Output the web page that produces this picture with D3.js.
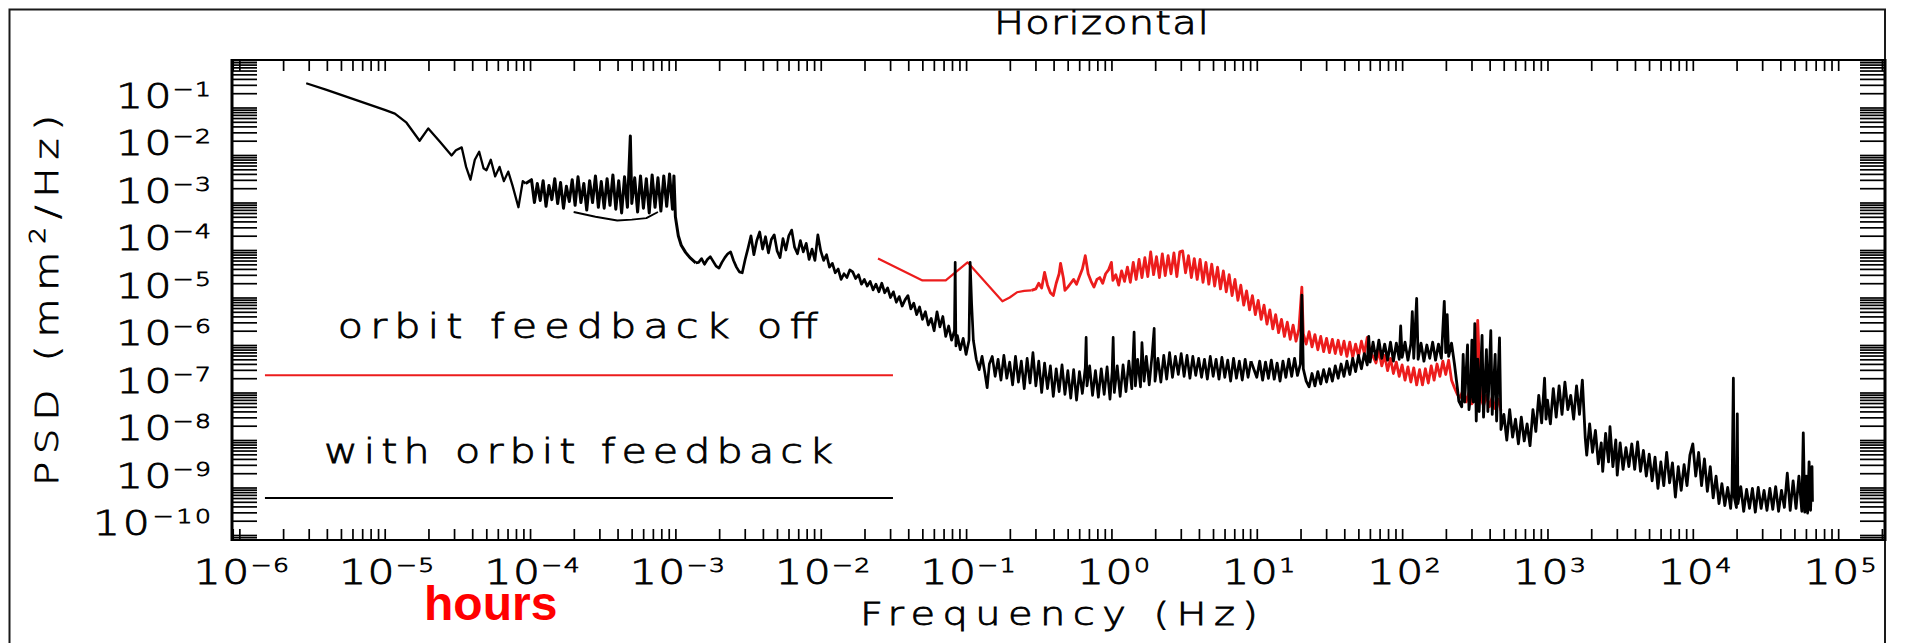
<!DOCTYPE html>
<html>
<head>
<meta charset="utf-8">
<script src="https://cdn.jsdelivr.net/npm/d3@7"></script>
<style>
  html, body { margin: 0; padding: 0; background: #fff; }
  svg { display: block; }
  .hershey {
    font-family: "DejaVu Sans", sans-serif; font-weight: 200;
    fill: #000; stroke: #000; stroke-width: 0.8px;
  }
</style>
</head>
<body>
<svg id="chart" width="1906" height="643"></svg>
<script>
// ---------- axis ranges and labels ----------
const xDomain = [8.9e-7, 2.1e5];          // Hz
const yDomain = [7.85e-11, 1];            // mm^2/Hz
const xLabelDecades = [-6, -5, -4, -3, -2, -1, 0, 1, 2, 3, 4, 5];
const yLabelDecades = [-1, -2, -3, -4, -5, -6, -7, -8, -9, -10];
const chartTitle = "Horizontal";
const xTitle = "Frequency (Hz)";
const seriesNames = ["orbit feedback off", "with orbit feedback"];
const noteText = "hours";

// ---------- PSD with orbit feedback: [log10 f, log10 PSD] ----------
const onDrift = [
  [-5.54,-0.49],[-5.40,-0.63],[-5.20,-0.84],[-5.00,-1.05],[-4.93,-1.13],[-4.85,-1.32],[-4.76,-1.70],
  [-4.70,-1.44],[-4.62,-1.72],[-4.54,-2.01],[-4.51,-1.90],[-4.47,-1.84],[-4.44,-2.25],[-4.41,-2.52],
  [-4.38,-2.10],[-4.35,-1.93],[-4.32,-2.28],[-4.30,-2.32],[-4.27,-2.10],[-4.24,-2.45],[-4.21,-2.25],
  [-4.18,-2.55],[-4.15,-2.35],[-4.12,-2.65],[-4.08,-3.10],[-4.05,-2.55],[-4.03,-2.60]
];
const onPlateau = [
  [-3.99,-2.52],[-3.97,-3.00],[-3.95,-2.60],[-3.93,-2.96],[-3.91,-2.54],[-3.89,-3.08],[-3.87,-2.64],
  [-3.85,-2.94],[-3.83,-2.50],[-3.81,-3.02],[-3.79,-2.58],[-3.77,-3.12],[-3.75,-2.66],[-3.73,-2.98],
  [-3.71,-2.52],[-3.69,-3.06],[-3.67,-2.46],[-3.65,-3.00],[-3.63,-2.60],[-3.61,-3.16],[-3.59,-2.54],
  [-3.57,-3.00],[-3.55,-2.44],[-3.53,-3.10],[-3.51,-2.56],[-3.49,-3.12],[-3.47,-2.50],[-3.45,-3.06],
  [-3.43,-2.42],[-3.41,-3.14],[-3.39,-2.54],[-3.37,-3.22],[-3.35,-2.46],[-3.33,-3.10],[-3.31,-1.60],
  [-3.30,-3.02],[-3.28,-2.48],[-3.26,-3.20],[-3.24,-2.44],[-3.22,-3.12],[-3.20,-2.50],[-3.18,-3.22],
  [-3.16,-2.42],[-3.14,-3.10],[-3.12,-2.48],[-3.10,-3.18],[-3.08,-2.44],[-3.06,-3.08],[-3.04,-2.40],
  [-3.02,-3.14],[-3.01,-2.44],[-3.00,-3.30],[-2.98,-3.70],[-2.96,-3.90],[-2.93,-4.05],[-2.90,-4.16],
  [-2.86,-4.27]
];
const onLowerTrace = [
  [-3.70,-3.20],[-3.55,-3.30],[-3.40,-3.38],[-3.30,-3.36],[-3.20,-3.33],[-3.12,-3.20]
];
const onMidBand = [
  [-2.84,-4.26],[-2.82,-4.18],[-2.80,-4.30],[-2.78,-4.20],[-2.76,-4.14],[-2.74,-4.24],[-2.72,-4.34],
  [-2.70,-4.38],[-2.68,-4.26],[-2.66,-4.16],[-2.64,-4.08],[-2.62,-4.04],[-2.60,-4.22],[-2.58,-4.36],
  [-2.56,-4.46],[-2.54,-4.48],[-2.52,-4.20],[-2.50,-3.96],[-2.48,-3.70],[-2.46,-4.10],[-2.44,-3.80],
  [-2.42,-3.62],[-2.40,-3.98],[-2.38,-3.72],[-2.36,-4.06],[-2.34,-3.78],[-2.32,-3.68],[-2.30,-4.02],
  [-2.28,-4.16],[-2.26,-3.76],[-2.24,-4.00],[-2.22,-3.70],[-2.20,-3.58],[-2.18,-3.94],[-2.16,-4.08],
  [-2.14,-3.80],[-2.12,-4.04],[-2.10,-3.86],[-2.08,-4.20],[-2.06,-3.98],[-2.04,-4.22],[-2.02,-3.68],
  [-2.00,-4.02],[-1.98,-4.22],[-1.96,-4.10],[-1.94,-4.36],[-1.92,-4.28],[-1.90,-4.48],[-1.88,-4.40],
  [-1.86,-4.62],[-1.84,-4.50],[-1.82,-4.58],[-1.80,-4.42],[-1.78,-4.46],[-1.76,-4.60],[-1.74,-4.52],
  [-1.72,-4.72],[-1.70,-4.62],[-1.68,-4.76],[-1.66,-4.66],[-1.64,-4.84],[-1.62,-4.72],[-1.60,-4.88],
  [-1.58,-4.70],[-1.56,-4.90],[-1.54,-4.80],[-1.52,-5.00],[-1.50,-4.88],[-1.48,-5.10],[-1.46,-4.98],
  [-1.44,-5.18],[-1.42,-5.05],[-1.40,-4.96],[-1.38,-5.24],[-1.36,-5.12],[-1.34,-5.36],[-1.32,-5.20],
  [-1.30,-5.46],[-1.28,-5.30],[-1.26,-5.58],[-1.24,-5.44],[-1.22,-5.70],[-1.20,-5.30],[-1.18,-5.62],
  [-1.16,-5.40],[-1.14,-5.82],[-1.12,-5.60],[-1.10,-5.90],[-1.08,-5.70],[-1.075,-4.26],[-1.07,-6.02],
  [-1.06,-5.80],[-1.04,-6.10],[-1.02,-5.86],[-1.00,-6.20],[-0.98,-5.90],[-0.972,-4.26],[-0.962,-5.12],
  [-0.95,-5.90],[-0.93,-6.30],[-0.91,-6.52],[-0.89,-6.24],[-0.87,-6.60],[-0.855,-6.90],[-0.84,-6.40],
  [-0.82,-6.24],[-0.80,-6.66],[-0.78,-6.30],[-0.76,-6.74],[-0.74,-6.22],[-0.72,-6.70],[-0.70,-6.36],
  [-0.68,-6.84],[-0.66,-6.24],[-0.64,-6.78],[-0.62,-6.34],[-0.60,-6.92],[-0.58,-6.28],[-0.56,-6.80],
  [-0.54,-6.16],[-0.52,-6.86],[-0.50,-6.34],[-0.48,-7.00],[-0.46,-6.38],[-0.44,-6.92],[-0.42,-6.44],
  [-0.40,-7.08],[-0.38,-6.50],[-0.36,-6.98],[-0.34,-6.42],[-0.32,-7.04],[-0.30,-6.54],[-0.28,-7.12],
  [-0.26,-6.52],[-0.24,-7.16],[-0.22,-6.56],[-0.20,-7.02],[-0.18,-6.48],[-0.174,-5.84],[-0.168,-6.86],
  [-0.15,-6.44],[-0.13,-7.06],[-0.11,-6.54],[-0.09,-7.10],[-0.07,-6.50],[-0.05,-7.04],[-0.03,-6.46],
  [-0.01,-7.14],[0.005,-6.56],[0.012,-5.84],[0.02,-7.00],[0.04,-6.44],[0.06,-7.08],[0.08,-6.42],
  [0.10,-6.98],[0.12,-6.34],[0.14,-6.92],[0.156,-5.73],[0.165,-6.86],[0.18,-6.30],[0.20,-6.88],
  [0.21,-5.95],[0.225,-6.76],[0.24,-6.24],[0.26,-6.84],[0.28,-6.20],[0.294,-5.65],[0.30,-6.76],
  [0.32,-6.28],[0.34,-6.78],[0.36,-6.22],[0.38,-6.72],[0.40,-6.16],[0.42,-6.68],[0.44,-6.24],
  [0.46,-6.62],[0.48,-6.18],[0.50,-6.66],[0.52,-6.22],[0.54,-6.70],[0.56,-6.24],[0.58,-6.64],
  [0.60,-6.28],[0.62,-6.68],[0.64,-6.30],[0.66,-6.72],[0.68,-6.24],[0.70,-6.66],[0.72,-6.30],
  [0.74,-6.72],[0.76,-6.26],[0.78,-6.68],[0.80,-6.32],[0.82,-6.76],[0.84,-6.28],[0.86,-6.70],
  [0.88,-6.34],[0.90,-6.74],[0.92,-6.30],[0.94,-6.68],[0.96,-6.34]
];
const onHighBand = [
  [1.00,-6.68],[1.02,-6.34],[1.04,-6.74],[1.06,-6.36],[1.08,-6.70],[1.10,-6.32],[1.12,-6.72],
  [1.14,-6.38],[1.16,-6.76],[1.18,-6.34],[1.20,-6.68],[1.22,-6.30],[1.24,-6.66],[1.26,-6.28],
  [1.28,-6.64],[1.30,-6.40],[1.31,-4.95],[1.32,-6.50],[1.34,-6.76],[1.36,-6.88],[1.38,-6.60],
  [1.40,-6.86],[1.42,-6.56],[1.44,-6.82],[1.46,-6.52],[1.48,-6.78],[1.50,-6.50],[1.52,-6.76],
  [1.54,-6.44],[1.56,-6.70],[1.58,-6.40],[1.60,-6.66],[1.62,-6.34],[1.64,-6.62],[1.66,-6.28],
  [1.68,-6.56],[1.70,-6.22],[1.72,-6.50],[1.74,-6.18],[1.76,-6.42],[1.77,-5.82],[1.78,-6.36],
  [1.80,-5.94],[1.82,-6.30],[1.84,-5.90],[1.86,-6.28],[1.88,-5.98],[1.90,-6.32],[1.92,-5.94],
  [1.94,-6.34],[1.96,-5.96],[1.98,-6.30],[1.99,-5.60],[2.00,-6.26],[2.02,-5.94],[2.04,-6.32],
  [2.06,-5.98],[2.07,-5.30],[2.08,-6.28],[2.10,-5.02],[2.11,-6.30],[2.13,-5.96],[2.15,-6.34],
  [2.17,-6.00],[2.19,-6.28],[2.21,-5.94],[2.23,-6.32],[2.25,-5.98],[2.27,-6.28],[2.29,-5.08],
  [2.30,-6.16],[2.31,-5.36],[2.32,-6.24],[2.34,-5.96],[2.36,-6.40],[2.38,-6.90],[2.39,-7.18],
  [2.41,-7.30],[2.42,-6.20],[2.43,-7.20],[2.45,-6.00],[2.46,-7.36],[2.47,-7.10],[2.48,-5.90],
  [2.49,-7.20],[2.50,-5.55],[2.51,-7.60],[2.52,-6.30],[2.53,-7.40],[2.55,-5.80],[2.56,-7.52],
  [2.58,-6.10],[2.59,-7.40],[2.61,-5.70],[2.62,-7.46],[2.64,-6.20],[2.65,-7.60],[2.67,-5.85],
  [2.68,-7.78],[2.70,-7.46],[2.72,-8.00],[2.74,-7.36],[2.76,-7.94],[2.78,-7.56],[2.80,-8.08],
  [2.82,-7.52],[2.84,-8.02],[2.86,-7.66],[2.88,-8.12],[2.90,-7.36],[2.92,-7.82],[2.94,-7.06],
  [2.96,-7.64],[2.98,-6.70],[2.99,-7.56],[3.00,-7.16],[3.02,-7.66],[3.04,-6.92],[3.06,-7.52],
  [3.08,-6.86],[3.10,-7.46],[3.12,-6.78],[3.14,-7.36],[3.16,-7.06],[3.18,-7.56],[3.20,-6.86],
  [3.22,-7.46],[3.24,-6.74],[3.26,-7.96],[3.27,-8.32],[3.29,-7.66],[3.31,-8.26],[3.33,-7.80],
  [3.35,-8.50],[3.37,-8.06],[3.38,-8.66],[3.40,-7.86],[3.42,-8.46],[3.43,-7.72],[3.45,-8.56],
  [3.47,-8.00],[3.48,-8.74],[3.50,-8.06],[3.52,-8.62],[3.54,-8.16],[3.56,-8.56],[3.58,-8.08],
  [3.60,-8.62],[3.62,-8.04],[3.64,-8.66],[3.66,-8.22],[3.68,-8.76],[3.70,-8.30],[3.72,-8.86],
  [3.74,-8.36],[3.76,-9.02],[3.78,-8.46],[3.80,-8.96],[3.82,-8.26],[3.84,-8.90],[3.86,-8.48],
  [3.88,-9.20],[3.90,-8.56],[3.92,-9.06],[3.94,-8.52],[3.96,-8.96],[3.98,-8.32],[4.00,-8.08],
  [4.02,-8.76],[4.04,-8.26],[4.06,-8.96],[4.08,-8.40],[4.10,-9.08],[4.12,-8.56],[4.14,-9.22],
  [4.16,-8.76],[4.18,-9.34],[4.20,-8.92],[4.22,-9.38],[4.24,-9.00],[4.26,-9.44],[4.27,-9.06],
  [4.279,-6.70],[4.285,-9.20],[4.30,-9.42],[4.306,-7.45],[4.31,-9.34],[4.33,-8.98],[4.35,-9.50],
  [4.37,-9.04],[4.39,-9.44],[4.41,-9.02],[4.43,-9.52],[4.45,-9.00],[4.47,-9.44],[4.49,-9.06],
  [4.51,-9.48],[4.53,-9.02],[4.55,-9.46],[4.57,-8.98],[4.59,-9.50],[4.61,-9.06],[4.63,-9.42],
  [4.65,-8.70],[4.67,-9.48],[4.69,-8.86],[4.71,-9.44],[4.73,-8.76],[4.75,-9.50],[4.76,-7.85],
  [4.77,-9.52],[4.78,-8.76],[4.79,-9.54],[4.80,-8.46],[4.81,-9.48],[4.82,-8.56],[4.823,-9.30]
];

// ---------- PSD with orbit feedback off: [log10 f, log10 PSD] ----------
const offSlow = [
  [-1.606,-4.18],[-1.30,-4.64],[-1.14,-4.64],[-0.99,-4.26],[-0.75,-5.08],[-0.70,-5.00],
  [-0.65,-4.89],[-0.60,-4.86],[-0.55,-4.85]
];
const offBand = [
  [-0.52,-4.82],[-0.50,-4.70],[-0.48,-4.80],[-0.46,-4.47],[-0.44,-4.74],[-0.42,-4.90],[-0.40,-4.96],
  [-0.38,-4.70],[-0.36,-4.50],[-0.35,-4.28],[-0.33,-4.60],[-0.32,-4.85],[-0.30,-4.78],[-0.28,-4.70],
  [-0.26,-4.62],[-0.24,-4.72],[-0.22,-4.56],[-0.20,-4.40],[-0.18,-4.12],[-0.16,-4.50],[-0.14,-4.66],
  [-0.12,-4.78],[-0.10,-4.62],[-0.08,-4.58],[-0.06,-4.70],[-0.04,-4.50],[-0.02,-4.42],[0.00,-4.26],
  [0.01,-4.64],[0.03,-4.52],[0.05,-4.74],[0.07,-4.44],[0.09,-4.66],[0.11,-4.36],[0.13,-4.68],
  [0.15,-4.26],[0.17,-4.62],[0.19,-4.20],[0.21,-4.58],[0.23,-4.16],[0.25,-4.56],[0.27,-4.04],
  [0.29,-4.52],[0.31,-4.14],[0.33,-4.58],[0.35,-4.08],[0.37,-4.54],[0.39,-4.12],[0.41,-4.50],
  [0.43,-4.06],[0.45,-4.56],[0.47,-4.04],[0.49,-4.02],[0.51,-4.48],[0.53,-4.12],[0.55,-4.58],
  [0.57,-4.18],[0.59,-4.62],[0.61,-4.20],[0.63,-4.68],[0.65,-4.26],[0.67,-4.72],[0.69,-4.30],
  [0.71,-4.76],[0.73,-4.36],[0.75,-4.82],[0.77,-4.44],[0.79,-4.88],[0.81,-4.52],[0.83,-4.96],
  [0.85,-4.62],[0.87,-5.06],[0.89,-4.74],[0.91,-5.16],[0.93,-4.86],[0.95,-5.26],[0.97,-4.96],
  [0.99,-5.36],[1.01,-5.06],[1.03,-5.46],[1.05,-5.16],[1.07,-5.56],[1.09,-5.26],[1.11,-5.66],
  [1.13,-5.36],[1.15,-5.74],[1.17,-5.46],[1.19,-5.82],[1.21,-5.52],[1.23,-5.88],[1.25,-5.58],
  [1.27,-5.92],[1.29,-5.66],[1.31,-4.78],[1.32,-5.76],[1.34,-5.98],[1.36,-5.72],[1.38,-6.04],
  [1.40,-5.78],[1.42,-6.10],[1.44,-5.82],[1.46,-6.14],[1.48,-5.86],[1.50,-6.16],[1.52,-5.88],
  [1.54,-6.18],[1.56,-5.90],[1.58,-6.20],[1.60,-5.92],[1.62,-6.24],[1.64,-5.94],[1.66,-6.26],
  [1.68,-5.98],[1.70,-6.24],[1.72,-5.92],[1.74,-6.18],[1.76,-5.84],[1.78,-6.14],[1.80,-6.24],
  [1.82,-6.38],[1.84,-6.12],[1.86,-6.44],[1.88,-6.22],[1.90,-6.54],[1.92,-6.28],[1.94,-6.60],
  [1.96,-6.36],[1.98,-6.66],[2.00,-6.42],[2.02,-6.74],[2.04,-6.46],[2.06,-6.78],[2.08,-6.48],
  [2.10,-6.84],[2.12,-6.52],[2.14,-6.84],[2.16,-6.50],[2.18,-6.80],[2.20,-6.44],[2.22,-6.74],
  [2.24,-6.40],[2.26,-6.66],[2.28,-6.34],[2.30,-6.62],[2.32,-6.32],[2.34,-6.74],[2.36,-6.90],
  [2.38,-7.04],[2.40,-7.10],[2.42,-6.94],[2.44,-7.20],[2.46,-7.00],[2.48,-7.24],[2.50,-7.04],
  [2.52,-5.48],[2.54,-7.10],[2.56,-7.28],[2.58,-7.06],[2.60,-7.30],[2.62,-7.10],[2.64,-7.34],
  [2.66,-7.14],[2.68,-7.38]
];

// ---------- layout ----------
const plot = { left: 232, right: 1885, top: 60, bottom: 540 };
const colors = { on: "#000000", off: "#ec1c1c", note: "#ff0000", frame: "#1a1a1a" };
const glyphStretch = 1.25;   // widens the sans glyphs toward the round plotter lettering

const svg = d3.select("#chart");

const x = d3.scaleLog().domain(xDomain).range([plot.left, plot.right]);
const y = d3.scaleLog().domain(yDomain).range([plot.bottom, plot.top]);

// log-axis tick positions: 1..9 x 10^n inside a domain
function logTicks([lo, hi]) {
  const out = [];
  const n0 = Math.floor(Math.log10(lo)), n1 = Math.ceil(Math.log10(hi));
  for (let n = n0; n <= n1; n++) {
    for (let k = 1; k < 10; k++) {
      const v = k * Math.pow(10, n);
      if (v >= lo && v <= hi * 1.000001) out.push(v);
    }
  }
  return out;
}
const xTicks = logTicks(xDomain);
const yTicks = logTicks(yDomain);

// text drawn in a horizontally stretched frame, fitted to a given width
function stretchedText(parent, opt) {
  const g = parent.append("g")
    .attr("transform", `translate(${opt.x},${opt.y}) rotate(${opt.rotate || 0}) scale(${glyphStretch},1)`);
  return g.append("text")
    .attr("class", "hershey")
    .attr("text-anchor", opt.anchor || "start")
    .attr("font-size", opt.size)
    .attr("textLength", opt.width / glyphStretch)
    .attr("lengthAdjust", "spacing");
}

// outer border of the figure
svg.append("rect")
  .attr("x", 9.5).attr("y", 9.5)
  .attr("width", plot.right - 9.5).attr("height", 700)
  .attr("fill", "none").attr("stroke", colors.frame).attr("stroke-width", 2);

// clip for the curves
svg.append("clipPath").attr("id", "plot-clip")
  .append("rect")
  .attr("x", plot.left).attr("y", plot.top)
  .attr("width", plot.right - plot.left).attr("height", plot.bottom - plot.top);

// ---------- curves ----------
const line = d3.line()
  .x(d => x(Math.pow(10, d[0])))
  .y(d => y(Math.pow(10, d[1])));

const curves = svg.append("g").attr("clip-path", "url(#plot-clip)").attr("fill", "none")
  .attr("stroke-linejoin", "round");

// each piece is joined to the last point of the piece before it
function drawPieces(pieces, color) {
  pieces.forEach(([pts, width], i) => {
    const prev = i > 0 ? pieces[i - 1][0] : null;
    const data = prev ? [prev[prev.length - 1]].concat(pts) : pts;
    curves.append("path").datum(data).attr("d", line)
      .attr("stroke", color).attr("stroke-width", width);
  });
}
drawPieces([[offSlow, 2.2], [offBand, 2.8]], colors.off);
drawPieces([[onDrift, 2.3], [onPlateau, 3.0], [onMidBand, 2.7], [onHighBand, 2.8]], colors.on);
drawPieces([[onLowerTrace, 1.9]], colors.on);

// ---------- axes (inward ticks on all four sides) ----------
function styleAxis(g) {
  g.select(".domain").remove();
  g.selectAll(".tick line").attr("stroke", "#000").attr("stroke-width", 1.7);
}
svg.append("g").attr("transform", `translate(${plot.left},0)`)
  .call(d3.axisLeft(y).tickValues(yTicks).tickSize(-25).tickFormat(""))
  .call(styleAxis);
svg.append("g").attr("transform", `translate(${plot.right},0)`)
  .call(d3.axisRight(y).tickValues(yTicks).tickSize(-25).tickFormat(""))
  .call(styleAxis);
svg.append("g").attr("transform", `translate(0,${plot.bottom})`)
  .call(d3.axisBottom(x).tickValues(xTicks).tickSize(-11).tickFormat(""))
  .call(styleAxis);
svg.append("g").attr("transform", `translate(0,${plot.top})`)
  .call(d3.axisTop(x).tickValues(xTicks).tickSize(-11).tickFormat(""))
  .call(styleAxis);

// plot box
const box = svg.append("g").attr("stroke", "#000").attr("fill", "none");
box.append("line").attr("x1", plot.left).attr("x2", plot.left)
  .attr("y1", plot.top - 1).attr("y2", plot.bottom + 1).attr("stroke-width", 3);
box.append("line").attr("x1", plot.right).attr("x2", plot.right)
  .attr("y1", plot.top - 1).attr("y2", plot.bottom + 1).attr("stroke-width", 3);
box.append("line").attr("x1", plot.left).attr("x2", plot.right)
  .attr("y1", plot.bottom).attr("y2", plot.bottom).attr("stroke-width", 2.2);
box.append("line").attr("x1", plot.left).attr("x2", plot.right)
  .attr("y1", plot.top).attr("y2", plot.top).attr("stroke-width", 2.2);

// ---------- tick labels: 10 with superscript exponent ----------
function powerLabel(parent, n, px, py, anchor) {
  const exp = n < 0 ? "\u2212" + (-n) : String(n);
  const width = exp.length === 1 ? 73 : (exp.length === 2 ? 95 : 118);
  const t = stretchedText(parent, { x: px, y: py, anchor, size: 34, width });
  t.append("tspan").text("10");
  t.append("tspan").attr("dy", -12).attr("font-size", 20).text(exp);
}
const xLabels = svg.append("g");
xLabelDecades.forEach(n => powerLabel(xLabels, n, x(Math.pow(10, n)) + 2, 584, "middle"));
const yLabels = svg.append("g");
yLabelDecades.forEach(n => powerLabel(yLabels, n, 211, y(Math.pow(10, n)), "end"));

// ---------- titles ----------
stretchedText(svg, { x: 994, y: 34, size: 32, width: 215 }).text(chartTitle);
stretchedText(svg, { x: 860, y: 625, size: 32, width: 398 }).text(xTitle);

const yt = stretchedText(svg, { x: 58, y: 486, rotate: -90, size: 32, width: 371 });
yt.append("tspan").text("PSD (mm");
yt.append("tspan").attr("dy", -13).attr("font-size", 21).text("2");
yt.append("tspan").attr("dy", 13).text("/Hz)");

// ---------- legend, placed in data coordinates ----------
const legend = [
  { name: seriesNames[0], color: colors.off, lineY: 2.32e-7, textX: 4.76e-6, textY: 1.4e-6, width: 480 },
  { name: seriesNames[1], color: colors.on,  lineY: 6.0e-10, textX: 3.82e-6, textY: 3.28e-9, width: 509 }
];
const legendX = [1.5e-6, 3.14e-2];
const lg = svg.append("g");
legend.forEach(d => {
  lg.append("line")
    .attr("x1", x(legendX[0])).attr("x2", x(legendX[1]))
    .attr("y1", y(d.lineY)).attr("y2", y(d.lineY))
    .attr("stroke", d.color).attr("stroke-width", 2);
  stretchedText(lg, { x: x(d.textX), y: y(d.textY), size: 33, width: d.width }).text(d.name);
});

// ---------- annotation ----------
svg.append("text")
  .attr("x", 424).attr("y", 620)
  .attr("font-family", "'Liberation Sans', Arial, sans-serif")
  .attr("font-weight", "bold").attr("font-size", 48)
  .attr("fill", colors.note)
  .text(noteText);
</script>
</body>
</html>
